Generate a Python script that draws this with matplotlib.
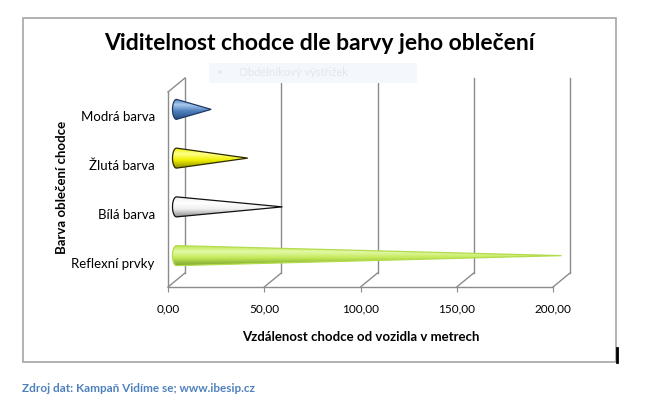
import matplotlib

matplotlib.use("Agg")
import matplotlib.pyplot as plt
import numpy as np
from matplotlib.colors import LinearSegmentedColormap
from matplotlib.patches import Polygon, Rectangle

categories = ["Reflexní prvky", "Bílá barva", "Žlutá barva", "Modrá barva"]
distances = [200, 55, 37, 18]
x_ticks = [0, 50, 100, 150, 200]
x_tick_labels = ["0,00", "50,00", "100,00", "150,00", "200,00"]

# per cone: dark, base, light, outline
cone_colors = [
    ("#779f2a", "#c2e858", "#e3f9a6", "#b2dc4e"),
    ("#8a8a8a", "#f0f0f0", "#ffffff", "#111111"),
    ("#8f8f00", "#f0f000", "#ffff8c", "#2a2a00"),
    ("#234f85", "#4f81bd", "#a9c8ec", "#1f3864"),
]

W, H = 645, 411
plt.rcParams["font.family"] = ["Lato", "DejaVu Sans"]
fig = plt.figure(figsize=(W / 100, H / 100), dpi=100)


def px_rect(x0, y0, x1, y1):
    # pixel box (top-left origin) -> figure fraction [l, b, w, h]
    return [x0 / W, 1 - y1 / H, (x1 - x0) / W, (y1 - y0) / H]


# outer chart frame and the stray selection box from the screenshot
fig.add_artist(Rectangle((23 / W, 1 - 362 / H), (616 - 23) / W, (362 - 18) / H,
                         transform=fig.transFigure, fill=False,
                         edgecolor="#a6a6a6", lw=1.2))
fig.add_artist(plt.Line2D([617 / W, 617 / W], [1 - 348 / H, 1 - 362 / H],
                          transform=fig.transFigure, color="black", lw=2))
fig.add_artist(Rectangle((209 / W, 1 - 83 / H), (417 - 209) / W, 20 / H,
                         transform=fig.transFigure, facecolor="#f4f8fd",
                         edgecolor="none"))
fig.text(220 / W, 1 - 73 / H, "\u2022", color="#e3eaf3", fontsize=8,
         va="center", ha="center")
fig.text(239 / W, 1 - 73 / H, "Obdélníkový výstřižek", color="#e0e7f0",
         fontsize=8, va="center")

ax = fig.add_axes(px_rect(168, 92, 553, 287))
ax.patch.set_visible(False)
for spine in ax.spines.values():
    spine.set_visible(False)
ax.set_xlim(0, 200)
ax.set_ylim(-0.5, 3.5)
ax.set_autoscale_on(False)

# depth of the 3D box in data units (17 px right, 14 px up)
dx = 17 / (385 / 200)
dy = 14 / (195 / 4)
y0, y1 = -0.5, 3.5
grid = dict(color="#8c8c8c", lw=1, clip_on=False, zorder=1)

ax.plot([0, 200], [y0, y0], **grid)
ax.plot([0, 0], [y0, y1], **grid)
ax.plot([0, dx], [y1, y1 + dy], **grid)
for t in x_ticks:
    ax.plot([t, t + dx], [y0, y0 + dy], **grid)
    ax.plot([t + dx, t + dx], [y0 + dy, y1 + dy], **grid)

# cones
r = 10 / (195 / 4)
a = 4 / (385 / 200)
theta = np.linspace(np.pi / 2, 3 * np.pi / 2, 40)
for i, (val, (dark, base, light, edge)) in enumerate(zip(distances, cone_colors)):
    cy = i + dy / 2
    bx = dx / 2
    tx = val + dx / 2
    verts = np.column_stack([bx + a * np.cos(theta), cy + r * np.sin(theta)])
    verts = np.vstack([verts, [tx, cy]])
    cone = Polygon(verts, closed=True, facecolor="none", edgecolor=edge,
                   lw=0.9, zorder=4, clip_on=False)
    ax.add_patch(cone)
    cmap = LinearSegmentedColormap.from_list(
        f"cone{i}", [(0, dark), (0.4, base), (0.72, light), (1, base)])
    grad = np.linspace(0, 1, 128).reshape(-1, 1)
    im = ax.imshow(grad, cmap=cmap, origin="lower", aspect="auto",
                   interpolation="bilinear",
                   extent=(bx - a, tx, cy - r, cy + r), zorder=3)
    im.set_clip_path(cone)

ax.set_xlim(0, 200)
ax.set_ylim(y0, y1)
ax.set_xticks(x_ticks, x_tick_labels)
ax.set_yticks(range(len(categories)), categories)
ax.tick_params(axis="x", length=3.6, color="#8c8c8c", pad=8, labelsize=8.5)
ax.tick_params(axis="y", length=0, pad=9.5, labelsize=9.5)

fig.text(319 / W, 1 - 43 / H, "Viditelnost chodce dle barvy jeho oblečení",
         ha="center", va="center", fontsize=16.5, fontweight="bold")
fig.text(361 / W, 1 - 337 / H, "Vzdálenost chodce od vozidla v metrech",
         ha="center", va="center", fontsize=9.5, fontweight="bold")
fig.text(62 / W, 1 - 187 / H, "Barva oblečení chodce", rotation=90,
         ha="center", va="center", fontsize=9.5, fontweight="bold")
fig.text(22 / W, 1 - 388 / H, "Zdroj dat: Kampaň Vidíme se; www.ibesip.cz",
         ha="left", va="center", fontsize=8.5, fontweight="bold",
         color="#4f81bd")

fig.savefig("out.png", dpi=100)
